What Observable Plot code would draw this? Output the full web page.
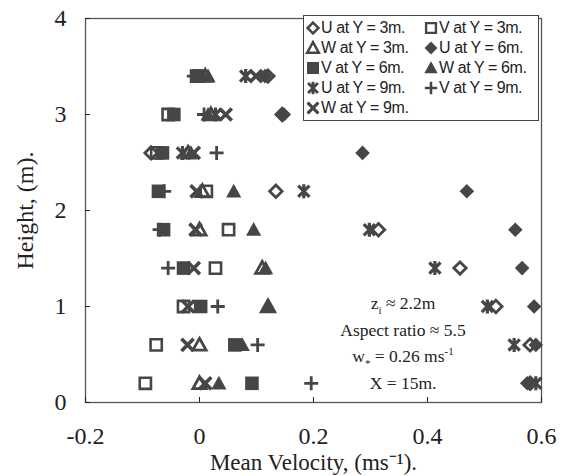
<!DOCTYPE html>
<html><head><meta charset="utf-8">
<script src="https://cdn.jsdelivr.net/npm/d3@7"></script>
<script src="https://cdn.jsdelivr.net/npm/@observablehq/plot@0.6"></script>
<style>
body{margin:0;background:#fff;}
#wrap{position:relative;width:564px;height:476px;}
#legend{position:absolute;left:303px;top:15px;width:234px;height:104px;border:1.5px solid #444;background:#fff;font-family:"Liberation Sans",Arial,sans-serif;font-size:16px;letter-spacing:-0.4px;color:#222;}
.item{position:absolute;display:flex;align-items:center;white-space:nowrap;height:18px;}
.item svg{margin-right:0px;}
#note{position:absolute;left:313px;top:290px;width:180px;text-align:center;font-family:"Liberation Serif",serif;font-size:17.5px;line-height:26.5px;color:#222;}
#note sub,#note sup{font-size:11px;line-height:0;}
</style></head>
<body><div id="wrap"></div>
<script>
// Data: heights (m) and mean velocities (m/s) per series
const heights = [0.2, 0.6, 1.0, 1.4, 1.8, 2.2, 2.6, 3.0, 3.4];
const u3 = [0.580, 0.580, 0.520, 0.457, 0.314, 0.134, -0.085, 0.145, 0.120];
const v3 = [-0.095, -0.076, -0.028, 0.028, 0.051, 0.012, -0.075, -0.055, -0.005];
const w3 = [0.000, 0.000, 0.120, 0.110, 0.000, 0.005, -0.020, 0.020, 0.010];
const u6 = [0.575, 0.590, 0.587, 0.566, 0.554, 0.469, 0.286, 0.148, 0.115];
const v6 = [0.092, 0.062, 0.002, -0.028, -0.063, -0.072, -0.065, -0.045, -0.002];
const w6 = [0.034, 0.075, 0.122, 0.116, 0.095, 0.060, -0.015, 0.015, 0.015];
const u9 = [0.590, 0.552, 0.505, 0.413, 0.298, 0.183, -0.030, 0.028, 0.081];
const v9 = [0.196, 0.102, 0.032, -0.055, -0.070, -0.062, 0.030, 0.008, -0.010];
const w9 = [0.010, -0.021, -0.020, -0.010, -0.007, -0.005, -0.010, 0.046, 0.099];
const seriesLabels = ["U at Y = 3m.", "V at Y = 3m.", "W at Y = 3m.", "U at Y = 6m.", "V at Y = 6m.", "W at Y = 6m.", "U at Y = 9m.", "V at Y = 9m.", "W at Y = 9m."];
const xTicks = [-0.2, 0, 0.2, 0.4, 0.6];
const yTicks = [0, 1, 2, 3, 4];

const INK = "#464646";
const R = s => Math.sqrt(s / Math.PI);
const sym = {
  diamond: {draw(c, s) {const r = R(s); c.moveTo(0, -r); c.lineTo(r, 0); c.lineTo(0, r); c.lineTo(-r, 0); c.closePath();}},
  square: {draw(c, s) {const r = R(s); c.moveTo(-r, -r); c.lineTo(r, -r); c.lineTo(r, r); c.lineTo(-r, r); c.closePath();}},
  triangle: {draw(c, s) {const r = R(s); c.moveTo(0, -r); c.lineTo(r, r * 0.8); c.lineTo(-r, r * 0.8); c.closePath();}},
  plus: {draw(c, s) {const r = R(s); c.moveTo(-r, 0); c.lineTo(r, 0); c.moveTo(0, -r); c.lineTo(0, r);}},
  times: {draw(c, s) {const r = R(s) * 0.8; c.moveTo(-r, -r); c.lineTo(r, r); c.moveTo(r, -r); c.lineTo(-r, r);}},
  asterisk: {draw(c, s) {const r = R(s); const a = r * 0.8; c.moveTo(-a, -a); c.lineTo(a, a); c.moveTo(a, -a); c.lineTo(-a, a); c.moveTo(0, -r); c.lineTo(0, r);}}
};
// style per series: [symbol, size(r), filled, strokeWidth]
const styles = [
  [sym.diamond, 6.2, false, 2.8],
  [sym.square, 5.6, false, 2.6],
  [sym.triangle, 6.6, false, 2.8],
  [sym.diamond, 7.3, true, 0],
  [sym.square, 6.8, true, 0],
  [sym.triangle, 7.6, true, 0],
  [sym.asterisk, 7, false, 3.2],
  [sym.plus, 7, false, 2.8],
  [sym.times, 7.6, false, 3.6]
];
const values = [u3, v3, w3, u6, v6, w6, u9, v9, w9];

const dots = values.map((vals, k) => {
  const [s, r, filled, sw] = styles[k];
  const data = heights.map((h, i) => ({x: vals[i], y: h}));
  return Plot.dot(data, {x: "x", y: "y", symbol: s, r,
    fill: filled ? INK : "none", stroke: filled ? "none" : INK, strokeWidth: sw});
});

const chart = Plot.plot({
  width: 564, height: 476,
  marginLeft: 85, marginRight: 23, marginTop: 18, marginBottom: 74,
  x: {domain: [-0.2, 0.6]},
  y: {domain: [0, 4]},
  style: {fontFamily: "'Liberation Serif', serif", fontSize: "24px", color: "#222", background: "transparent"},
  marks: [
    Plot.frame({stroke: "#555", strokeWidth: 1.3}),
    Plot.axisX(xTicks, {tickSize: -5, tickPadding: 29, tickFormat: d => String(d), fontSize: 24,
      label: null}),
    Plot.axisX({label: "Mean Velocity, (ms⁻¹).", labelAnchor: "center", labelOffset: 67, labelArrow: "none", ticks: [], fontSize: 23, tickSize: 0}),
    Plot.axisY(yTicks, {tickSize: -5, tickPadding: 24, tickFormat: d => String(d), fontSize: 24,
      label: "Height, (m).", labelAnchor: "center", labelOffset: 70, labelArrow: "none"}),
    ...dots
  ]
});
const wrap = document.getElementById("wrap");
wrap.appendChild(chart);

// Legend
const legend = document.createElement("div");
legend.id = "legend";
seriesLabels.forEach((lab, k) => {
  const col = k % 2, row = Math.floor(k / 2);
  const [s, r, filled, sw] = styles[k];
  const p = d3.path();
  const lr = r * 0.88;
  s.draw(p, lr * lr * Math.PI);
  const item = document.createElement("div");
  item.className = "item";
  item.style.left = (col === 0 ? 1 : 119) + "px";
  item.style.top = (3 + row * 20) + "px";
  item.innerHTML = `<svg width="16" height="16" viewBox="-8 -8 16 16"><path d="${p}" fill="${filled ? INK : "none"}" stroke="${filled ? "none" : INK}" stroke-width="${sw * 0.9}"/></svg><span>${lab}</span>`;
  legend.appendChild(item);
});
wrap.appendChild(legend);

// Annotation
const note = document.createElement("div");
note.id = "note";
note.innerHTML = `z<sub>i</sub> ≈ 2.2m<br>Aspect ratio ≈ 5.5<br>w<sub>*</sub> = 0.26 ms<sup>-1</sup><br>X = 15m.`;
wrap.appendChild(note);
</script>
</body></html>
